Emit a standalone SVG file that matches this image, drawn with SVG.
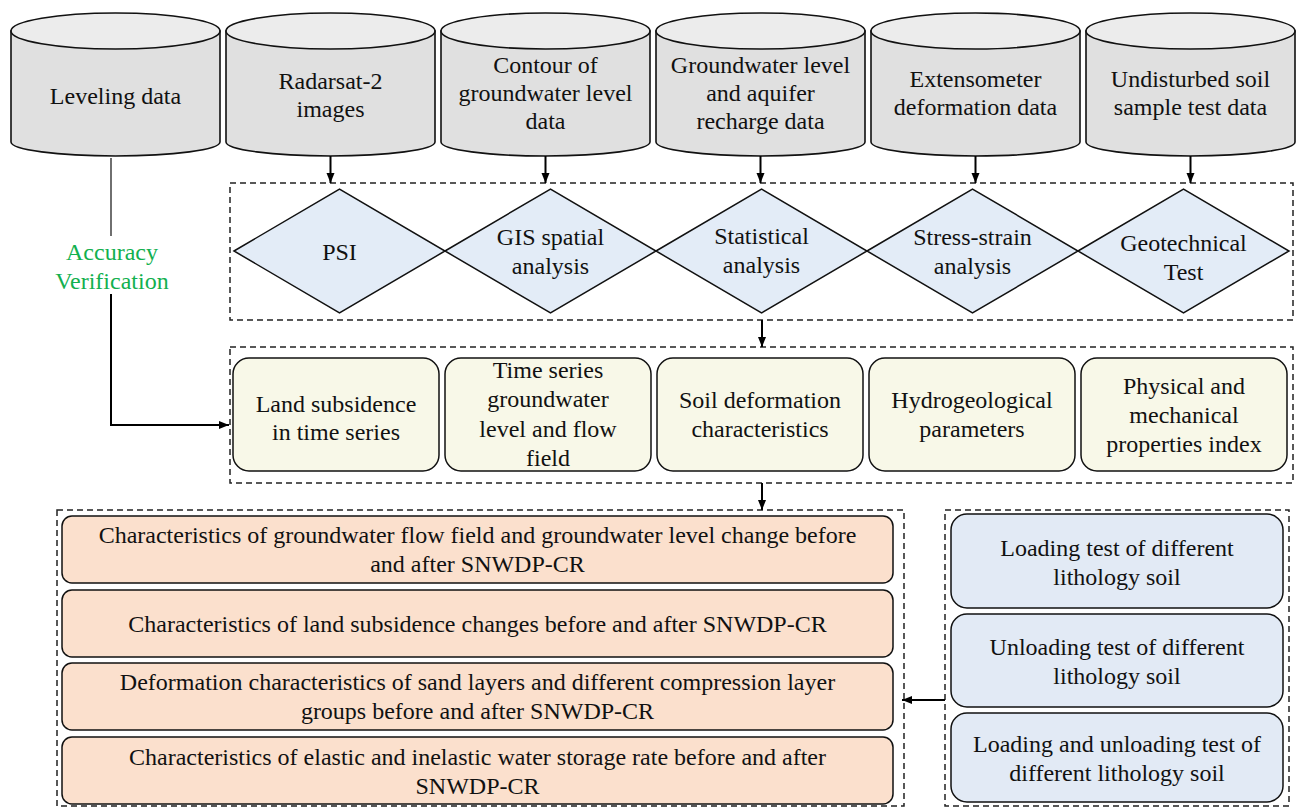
<svg xmlns="http://www.w3.org/2000/svg" width="1297" height="808" viewBox="0 0 1297 808" font-family="Liberation Serif">
<defs>
<style>
.t{font-family:"Liberation Serif","Times New Roman",serif;font-size:24px;fill:#111;text-anchor:middle}
.g{fill:#12b04f}
</style>
<marker id="ah" viewBox="0 0 10 10" refX="10" refY="5" markerWidth="10" markerHeight="10" markerUnits="userSpaceOnUse" orient="auto">
<path d="M0,1 L10,5 L0,9 Z" fill="#000"/>
</marker>
</defs>

<g id="frames" fill="none" stroke="#222" stroke-width="1.5" stroke-dasharray="6 4">
<rect x="230" y="183" width="1063" height="137"/>
<rect x="230" y="347" width="1063" height="136"/>
<rect x="57" y="510" width="847" height="296"/>
<rect x="945" y="510" width="344" height="296"/>
</g>

<g id="cylinders" stroke="#111" stroke-width="1.6">
<g id="cyl-leveling">
<path fill="#e0e0e0" d="M11,31 L11,142 A104.5,14 0 0 0 220,142 L220,31 Z"/>
<ellipse fill="#ececec" cx="115.5" cy="31" rx="104.5" ry="18"/>
</g>
<g id="cyl-radarsat">
<path fill="#e0e0e0" d="M226,31 L226,142 A104.5,14 0 0 0 435,142 L435,31 Z"/>
<ellipse fill="#ececec" cx="330.5" cy="31" rx="104.5" ry="18"/>
</g>
<g id="cyl-contour">
<path fill="#e0e0e0" d="M441,31 L441,142 A104.5,14 0 0 0 650,142 L650,31 Z"/>
<ellipse fill="#ececec" cx="545.5" cy="31" rx="104.5" ry="18"/>
</g>
<g id="cyl-groundwater">
<path fill="#e0e0e0" d="M656,31 L656,142 A104.5,14 0 0 0 865,142 L865,31 Z"/>
<ellipse fill="#ececec" cx="760.5" cy="31" rx="104.5" ry="18"/>
</g>
<g id="cyl-extensometer">
<path fill="#e0e0e0" d="M871,31 L871,142 A104.5,14 0 0 0 1080,142 L1080,31 Z"/>
<ellipse fill="#ececec" cx="975.5" cy="31" rx="104.5" ry="18"/>
</g>
<g id="cyl-soil">
<path fill="#e0e0e0" d="M1086,31 L1086,142 A104.5,14 0 0 0 1295,142 L1295,31 Z"/>
<ellipse fill="#ececec" cx="1190.5" cy="31" rx="104.5" ry="18"/>
</g>
</g>

<g id="diamonds" fill="#e3ecf7" stroke="#111" stroke-width="1.5">
<polygon id="d-psi" points="234,251 339.5,189 445,251 339.5,313"/>
<polygon id="d-gis" points="445,251 550.5,189 656,251 550.5,313"/>
<polygon id="d-stat" points="656,251 761.5,189 867,251 761.5,313"/>
<polygon id="d-stress" points="867,251 972.5,189 1078,251 972.5,313"/>
<polygon id="d-geo" points="1078,251 1183.5,189 1289,251 1183.5,313"/>
</g>

<g id="results" fill="#f8f8e8" stroke="#111" stroke-width="1.5">
<rect id="r-land" x="233" y="358" width="206" height="113" rx="16"/>
<rect id="r-time" x="445" y="358" width="206" height="113" rx="16"/>
<rect id="r-soil" x="657" y="358" width="206" height="113" rx="16"/>
<rect id="r-hydro" x="869" y="358" width="206" height="113" rx="16"/>
<rect id="r-phys" x="1081" y="358" width="206" height="113" rx="16"/>
</g>

<g id="characteristics" fill="#fbe0cd" stroke="#111" stroke-width="1.5">
<rect id="c-flow" x="62" y="516" width="831" height="67" rx="10"/>
<rect id="c-land" x="62" y="590" width="831" height="67" rx="10"/>
<rect id="c-deform" x="62" y="663" width="831" height="67" rx="10"/>
<rect id="c-storage" x="62" y="737" width="831" height="67" rx="10"/>
</g>

<g id="tests" fill="#e2eaf5" stroke="#111" stroke-width="1.5">
<rect id="t-load" x="951" y="514" width="332" height="94" rx="16"/>
<rect id="t-unload" x="951" y="614" width="332" height="93" rx="16"/>
<rect id="t-both" x="951" y="713" width="332" height="89" rx="16"/>
</g>

<g id="connectors" fill="none" stroke="#000" stroke-width="2">
<line x1="330.5" y1="156" x2="330.5" y2="183" marker-end="url(#ah)"/>
<line x1="545.5" y1="156" x2="545.5" y2="183" marker-end="url(#ah)"/>
<line x1="760.5" y1="156" x2="760.5" y2="183" marker-end="url(#ah)"/>
<line x1="975.5" y1="156" x2="975.5" y2="183" marker-end="url(#ah)"/>
<line x1="1190.5" y1="156" x2="1190.5" y2="183" marker-end="url(#ah)"/>
<line x1="762" y1="320" x2="762" y2="347" marker-end="url(#ah)"/>
<line x1="762" y1="483" x2="762" y2="510" marker-end="url(#ah)"/>
<line x1="945" y1="700" x2="902" y2="700" marker-end="url(#ah)"/>
<line x1="111" y1="158" x2="111" y2="236" stroke="#222" stroke-width="1.3"/>
<polyline points="111,294 111,425 229,425" marker-end="url(#ah)"/>
</g>

<g id="labels">
<text class="t" x="115.5" y="104">Leveling data</text>
<text class="t" x="330.5" y="89">Radarsat-2</text>
<text class="t" x="330.5" y="117">images</text>
<text class="t" x="545.5" y="73">Contour of</text>
<text class="t" x="545.5" y="101">groundwater level</text>
<text class="t" x="545.5" y="129">data</text>
<text class="t" x="760.5" y="73">Groundwater level</text>
<text class="t" x="760.5" y="101">and aquifer</text>
<text class="t" x="760.5" y="129">recharge data</text>
<text class="t" x="975.5" y="87">Extensometer</text>
<text class="t" x="975.5" y="115">deformation data</text>
<text class="t" x="1190.5" y="87">Undisturbed soil</text>
<text class="t" x="1190.5" y="115">sample test data</text>

<text class="t" x="339.5" y="260">PSI</text>
<text class="t" x="550.5" y="245">GIS spatial</text>
<text class="t" x="550.5" y="274">analysis</text>
<text class="t" x="761.5" y="244">Statistical</text>
<text class="t" x="761.5" y="273">analysis</text>
<text class="t" x="972.5" y="245">Stress-strain</text>
<text class="t" x="972.5" y="274">analysis</text>
<text class="t" x="1183.5" y="251">Geotechnical</text>
<text class="t" x="1183.5" y="280">Test</text>

<text class="t" x="336" y="412">Land subsidence</text>
<text class="t" x="336" y="440">in time series</text>
<text class="t" x="548" y="378">Time series</text>
<text class="t" x="548" y="407">groundwater</text>
<text class="t" x="548" y="437">level and flow</text>
<text class="t" x="548" y="466">field</text>
<text class="t" x="760" y="408">Soil deformation</text>
<text class="t" x="760" y="437">characteristics</text>
<text class="t" x="972" y="408">Hydrogeological</text>
<text class="t" x="972" y="437">parameters</text>
<text class="t" x="1184" y="394">Physical and</text>
<text class="t" x="1184" y="423">mechanical</text>
<text class="t" x="1184" y="452">properties index</text>

<text class="t" x="477.5" y="543">Characteristics of groundwater flow field and groundwater level change before</text>
<text class="t" x="477.5" y="572">and after SNWDP-CR</text>
<text class="t" x="477.5" y="632">Characteristics of land subsidence changes before and after SNWDP-CR</text>
<text class="t" x="477.5" y="690">Deformation characteristics of sand layers and different compression layer</text>
<text class="t" x="477.5" y="719">groups before and after SNWDP-CR</text>
<text class="t" x="477.5" y="765">Characteristics of elastic and inelastic water storage rate before and after</text>
<text class="t" x="477.5" y="794">SNWDP-CR</text>

<text class="t" x="1117" y="556">Loading test of different</text>
<text class="t" x="1117" y="585">lithology soil</text>
<text class="t" x="1117" y="655">Unloading test of different</text>
<text class="t" x="1117" y="684">lithology soil</text>
<text class="t" x="1117" y="752">Loading and unloading test of</text>
<text class="t" x="1117" y="781">different lithology soil</text>

<text class="t g" x="112" y="260">Accuracy</text>
<text class="t g" x="112" y="289">Verification</text>
</g>
</svg>
